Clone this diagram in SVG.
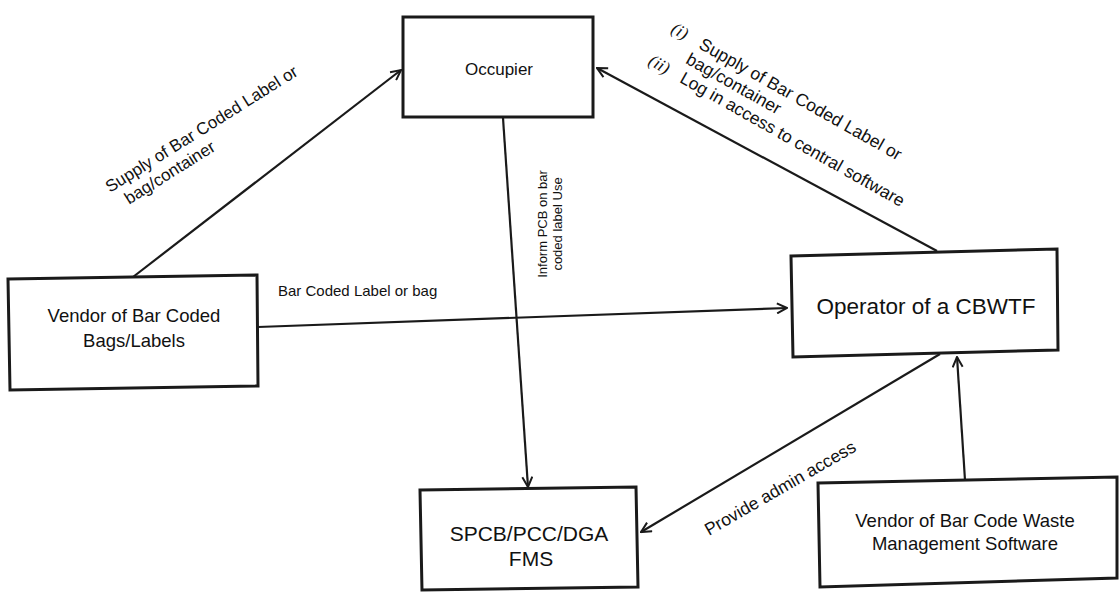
<svg xmlns="http://www.w3.org/2000/svg" width="1120" height="592" viewBox="0 0 1120 592">
<defs>
<style>
.box{fill:#fff;stroke:#1a1a1a;stroke-width:3;stroke-linejoin:miter}
.edge{fill:none;stroke:#1a1a1a;stroke-width:2.2}
.t{font-family:"Liberation Sans",Arial,sans-serif;fill:#111}
.c{text-anchor:middle}
.i{font-family:"Liberation Serif","Times New Roman",serif;font-style:italic;fill:#111}
</style>
<marker id="arr" viewBox="0 0 12 12" refX="11" refY="6" markerWidth="12" markerHeight="12" markerUnits="userSpaceOnUse" orient="auto">
<path d="M1,1 L11,6 L1,11" fill="none" stroke="#1a1a1a" stroke-width="2"/>
</marker>
</defs>
<rect width="1120" height="592" fill="#fff"/>

<g id="connectors">
<line class="edge" x1="133" y1="277" x2="401" y2="70" marker-end="url(#arr)"/>
<line class="edge" x1="937" y1="251" x2="597" y2="68" marker-end="url(#arr)"/>
<line class="edge" x1="503" y1="118" x2="528" y2="487" marker-end="url(#arr)"/>
<line class="edge" x1="258" y1="327" x2="787" y2="308" marker-end="url(#arr)"/>
<line class="edge" x1="940" y1="354" x2="641" y2="532" marker-end="url(#arr)"/>
<line class="edge" x1="965" y1="480" x2="957" y2="357" marker-end="url(#arr)"/>
<g id="label-supply-left" class="t" font-size="17" transform="translate(110,193) rotate(-32)">
<text x="0" y="0">Supply of Bar Coded Label or</text>
<text x="10" y="20">bag/container</text>
</g>
<g id="label-supply-right" font-size="17.5" transform="translate(670,32) rotate(29.5)">
<text class="i" x="0" y="0">(i)</text>
<text class="t" x="32" y="0">Supply of Bar Coded Label or</text>
<text class="t" x="28" y="19.5">bag/container</text>
<text class="i" x="-4" y="39">(ii)</text>
<text class="t" x="32" y="39">Log in access to central software</text>
</g>
<text class="t" x="278" y="296" font-size="15">Bar Coded Label or bag</text>
<g class="t" font-size="13" transform="translate(547,224) rotate(-90)">
<text class="c" x="0" y="0">Inform PCB on bar</text>
<text class="c" x="0" y="15">coded label Use</text>
</g>
<text class="t" font-size="17.5" transform="translate(709,536) rotate(-30)">Provide admin access</text>
</g>

<g id="node-occupier">
<rect class="box" x="403" y="17" width="190" height="100"/>
<text class="t c" x="499" y="75" font-size="17">Occupier</text>
</g>

<g id="node-vendor-bags">
<polygon class="box" points="8,279 257,275 258,386 10,390"/>
<text class="t c" x="134" y="322" font-size="18.5">Vendor of Bar Coded</text>
<text class="t c" x="134" y="347" font-size="18.5">Bags/Labels</text>
</g>

<g id="node-operator">
<polygon class="box" points="791,256 1057,249 1058,350 793,357"/>
<text class="t c" x="926" y="314" font-size="22.5">Operator of a CBWTF</text>
</g>

<g id="node-spcb">
<polygon class="box" points="420,490 636,487 638,587 422,590"/>
<text class="t c" x="529" y="541" font-size="21">SPCB/PCC/DGA</text>
<text class="t c" x="531" y="566" font-size="21">FMS</text>
</g>

<g id="node-software-vendor">
<polygon class="box" points="818,483 1117,477 1117,578 820,587"/>
<text class="t c" x="965" y="527" font-size="18.5">Vendor of Bar Code Waste</text>
<text class="t c" x="965" y="550" font-size="18.5">Management Software</text>
</g>
</svg>
